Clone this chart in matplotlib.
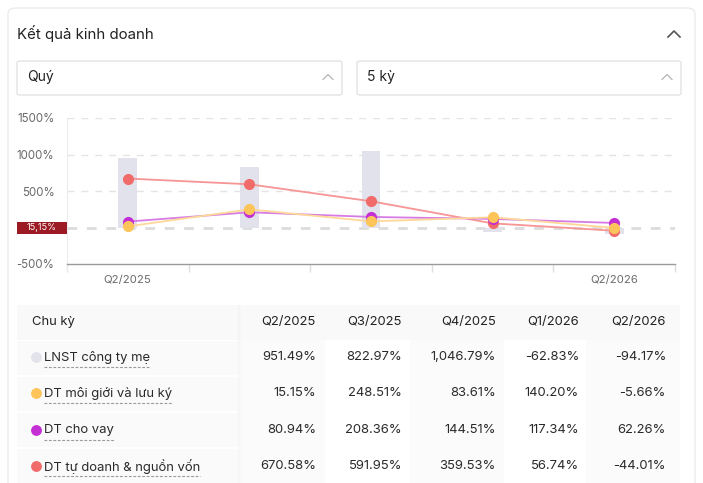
import matplotlib
matplotlib.use("Agg")
import matplotlib.pyplot as plt
from matplotlib.patches import FancyBboxPatch, Rectangle
from matplotlib.lines import Line2D
import matplotlib.transforms as mtransforms

periods = ['Q2/2025', 'Q3/2025', 'Q4/2025', 'Q1/2026', 'Q2/2026']
series_names = ['LNST công ty mẹ', 'DT môi giới và lưu ký', 'DT cho vay', 'DT tự doanh & nguồn vốn']
lnst = [951.49, 822.97, 1046.79, -62.83, -94.17]
moigioi = [15.15, 248.51, 83.61, 140.20, -5.66]
chovay = [80.94, 208.36, 144.51, 117.34, 62.26]
tudoanh = [670.58, 591.95, 359.53, 56.74, -44.01]
y_ticks = [-500, 0, 500, 1000, 1500]
title = 'Kết quả kinh doanh'
dropdown_texts = ['Quý', '5 kỳ']
header_first = 'Chu kỳ'

plt.rcParams['font.family'] = ['Inter', 'DejaVu Sans']

W, H = 703, 483
fig = plt.figure(figsize=(W / 100, H / 100), dpi=100)
fig.patch.set_facecolor('white')


def fx(x):
    return x / W


def fy(y):
    return 1 - y / H


def px_rect(x0, y0, x1, y1, **kw):
    kw.setdefault('zorder', -1)
    return Rectangle((fx(x0), fy(y1)), fx(x1) - fx(x0), fy(y0) - fy(y1),
                     transform=fig.transFigure, **kw)


# Card
card = FancyBboxPatch((fx(8), fy(492)), fx(695) - fx(8), fy(8) - fy(492),
                      boxstyle="round,pad=0,rounding_size=0.012",
                      transform=fig.transFigure, facecolor='white',
                      edgecolor='#ebebeb', linewidth=1, zorder=-2)
fig.patches.append(card)

fig.text(fx(17), fy(34), title, fontsize=10.8, color='#222222', va='center', ha='left')


def chevron(xc, yc, w, h, color, lw):
    fig.lines.append(Line2D([fx(xc - w / 2), fx(xc), fx(xc + w / 2)],
                            [fy(yc + h / 2), fy(yc - h / 2), fy(yc + h / 2)],
                            transform=fig.transFigure, color=color, linewidth=lw))


chevron(674, 34, 12, 6, '#555555', 1.2)

# Dropdowns
for (x0, x1), txt in zip([(17, 342), (357, 681)], dropdown_texts):
    box = FancyBboxPatch((fx(x0), fy(95)), fx(x1) - fx(x0), fy(61) - fy(95),
                         boxstyle="round,pad=0,rounding_size=0.004",
                         transform=fig.transFigure, facecolor='white',
                         edgecolor='#e3e3e3', linewidth=1, zorder=-1)
    fig.patches.append(box)
    fig.text(fx(x0 + 10), fy(77), txt, fontsize=10, color='#222222', va='center', ha='left')
    chevron(x1 - 14, 77, 10, 5, '#b5b5b5', 0.9)

# Chart axes
ax = fig.add_axes([fx(67), fy(264), fx(675) - fx(67), fy(118) - fy(264)])
ax.set_zorder(2)
ax.set_facecolor('none')
x = list(range(len(periods)))
ax.set_xlim(-0.5, len(periods) - 0.5)
ax.set_ylim(y_ticks[0], y_ticks[-1])

for v in y_ticks[2:]:
    ax.axhline(v, color='#e4e4e4', linewidth=1, linestyle=(0, (5, 5)), zorder=0)
ax.axhline(0, color='#dcdcdc', linewidth=2.0, linestyle=(0, (3.5, 3.5)), zorder=0.5)

ax.bar(x, lnst, width=0.155, color='#e1e2eb', zorder=1)

line_specs = [
    (tudoanh, '#f79494', '#f26b6b'),
    (chovay, '#d77be4', '#c42fd4'),
    (moigioi, '#fdd898', '#fdc45a'),
]
for vals, lc, mc in line_specs:
    ax.plot(x, vals, color=lc, linewidth=1.3, zorder=2)
    ax.plot(x, vals, linestyle='none', marker='o', markersize=7.0,
            markerfacecolor=mc, markeredgecolor=mc, zorder=3)

for s in ['top', 'right']:
    ax.spines[s].set_visible(False)
ax.spines['left'].set_color('#ececec')
ax.spines['left'].set_bounds(y_ticks[0] - 110, y_ticks[-1])
ax.spines['bottom'].set_color('#9a9a9a')
ax.spines['bottom'].set_linewidth(1)

label_val = f'{moigioi[0]:.2f}'.replace('.', ',') + '%'
ax.set_yticks(y_ticks)
# the 0% tick label is covered by the crosshair value box
ax.set_yticklabels(['' if v == 0 else f'{v}%' for v in y_ticks])
ax.tick_params(axis='y', length=0, pad=9, labelsize=8.3, labelcolor='#6b6b6b')

ax.set_xticks([i - 0.5 for i in range(len(periods) + 1)])
ax.set_xticklabels([])
ax.tick_params(axis='x', which='major', length=6, color='#dedede', width=1)
ax.set_xticks(x, minor=True)
ax.set_xticklabels([periods[0]] + [''] * (len(periods) - 2) + [periods[-1]], minor=True)
ax.tick_params(axis='x', which='minor', length=0, pad=8, labelsize=8.2, labelcolor='#6b6b6b')

# Crosshair label (at the baseline, value of first broker series)
trans = mtransforms.blended_transform_factory(fig.transFigure, ax.transData)
dppx = (y_ticks[-1] - y_ticks[0]) / (264 - 118)
ax.add_patch(Rectangle((fx(17), -6 * dppx), fx(67) - fx(17), 12 * dppx,
                       transform=trans, facecolor='#9c1a24', edgecolor='none',
                       clip_on=False, zorder=5))
ax.text(fx(42), 0, label_val, transform=trans, ha='center', va='center',
        fontsize=6.6, color='white', zorder=6, clip_on=False)

# Table
fig.patches.append(px_rect(17, 305, 680, 340, facecolor='#f9f9f9', edgecolor='none'))
row_bounds = [(340, 376), (376, 412), (412, 448), (448, 484)]
for (r0, r1) in row_bounds:
    fig.patches.append(px_rect(17, r0 + 1, 238, r1 - 1, facecolor='#fafafa', edgecolor='none'))
col_bounds = [(238, 325), (325, 410), (410, 504), (504, 586), (586, 680)]
for i, (c0, c1) in enumerate(col_bounds):
    if i % 2 == 0:
        fig.patches.append(px_rect(c0, 340, c1, 484, facecolor='#fbfbfb', edgecolor='none'))
for k, a in enumerate([0.025, 0.015, 0.008]):
    fig.patches.append(px_rect(238 + k, 305, 239 + k, 484, facecolor='black', alpha=a,
                               edgecolor='none'))

col_right = [316, 402, 496, 579, 666]
fig.text(fx(32), fy(322), header_first, fontsize=9.4, color='#222222', va='center', ha='left')
for xr, p in zip(col_right, periods):
    fig.text(fx(xr), fy(322), p, fontsize=9.4, color='#222222', va='center', ha='right')

dot_colors = ['#e2e3eb', '#fdc45a', '#c42fd4', '#f26b6b']
table_vals = [lnst, moigioi, chovay, tudoanh]
row_y = [357, 393, 430, 466]
renderer = fig.canvas.get_renderer()
for name, vals, dc, ry in zip(series_names, table_vals, dot_colors, row_y):
    fig.lines.append(Line2D([fx(36)], [fy(ry)], transform=fig.transFigure, marker='o',
                            markersize=6.8, markerfacecolor=dc, markeredgecolor=dc,
                            linestyle='none'))
    t = fig.text(fx(44), fy(ry), name, fontsize=9.4, color='#2a2a2a', va='center', ha='left')
    bb = t.get_window_extent(renderer=renderer)
    fig.lines.append(Line2D([fx(44), bb.x1 / fig.bbox.width],
                            [fy(ry + 10), fy(ry + 10)], transform=fig.transFigure,
                            color='#9a9a9a', linewidth=0.8, linestyle=(0, (2.5, 1.5))))
    for xr, v in zip(col_right, vals):
        fig.text(fx(xr), fy(ry), f'{v:,.2f}%', fontsize=9.4, color='#2a2a2a',
                 va='center', ha='right')

fig.savefig('out.png', dpi=100, facecolor='white')
